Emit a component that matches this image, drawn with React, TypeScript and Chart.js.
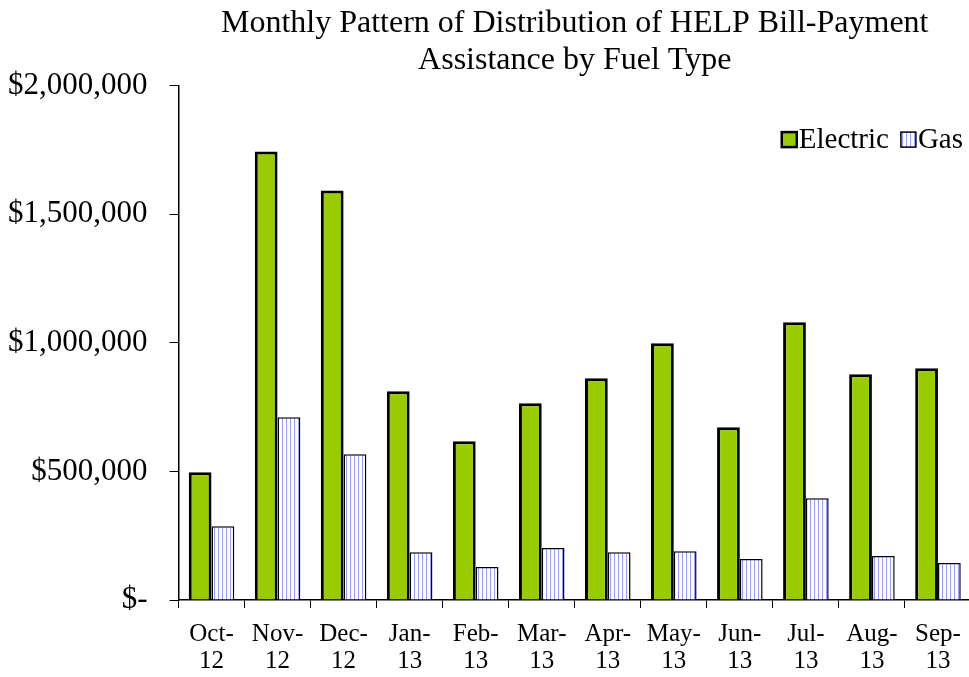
import React, { useEffect, useRef } from "react";
import { Chart, registerables } from "chart.js";

Chart.register(...registerables);

const months = [
  ["Oct-", "12"], ["Nov-", "12"], ["Dec-", "12"], ["Jan-", "13"], ["Feb-", "13"], ["Mar-", "13"],
  ["Apr-", "13"], ["May-", "13"], ["Jun-", "13"], ["Jul-", "13"], ["Aug-", "13"], ["Sep-", "13"],
];
const electric = [497000, 1744000, 1592000, 812000, 617000, 765000, 862000, 998000, 672000, 1080000, 878000, 901000];
const gas = [287000, 711000, 567000, 186000, 128000, 202000, 186000, 190000, 159000, 396000, 171000, 144000];
const titleLines = ["Monthly Pattern of Distribution of HELP Bill-Payment", "Assistance by Fuel Type"];

const FONT = "'Liberation Serif', 'Times New Roman', serif";

function makeStripes(): CanvasPattern | string {
  const c = document.createElement("canvas");
  c.width = 4;
  c.height = 4;
  const ctx = c.getContext("2d");
  if (!ctx) return "#ffffff";
  ctx.fillStyle = "#ffffff";
  ctx.fillRect(0, 0, 4, 4);
  ctx.fillStyle = "#9a9aff";
  ctx.fillRect(2, 0, 1, 4);
  return ctx.createPattern(c, "repeat") || "#ffffff";
}

const legendPlugin = {
  id: "customLegend",
  afterDraw(chart: any) {
    const ctx = chart.ctx as CanvasRenderingContext2D;
    const area = chart.chartArea;
    ctx.save();
    ctx.font = `29px ${FONT}`;
    ctx.textBaseline = "middle";
    ctx.fillStyle = "#000";
    const cy = area.top + 54;
    const box = 15;
    const gap = 2;
    const itemGap = 12;
    const ds = chart.data.datasets;
    const widths = ds.map((d: any) => box + gap + ctx.measureText(d.label).width);
    const total = widths.reduce((a: number, b: number) => a + b, 0) + itemGap * (ds.length - 1);
    let x = 963 - total;
    ds.forEach((d: any, i: number) => {
      ctx.fillStyle = d.backgroundColor;
      ctx.fillRect(x, cy - box / 2, box, box);
      ctx.lineWidth = i === 0 ? 2.5 : 1.5;
      ctx.strokeStyle = "#000";
      ctx.strokeRect(x, cy - box / 2, box, box);
      ctx.fillStyle = "#000";
      ctx.fillText(d.label, x + box + gap, cy + 1);
      x += widths[i] + itemGap;
    });
    ctx.restore();
  },
};

export default function App() {
  const ref = useRef<HTMLCanvasElement>(null);
  useEffect(() => {
    document.body.style.margin = "0";
    document.body.style.overflow = "hidden";
    if (!ref.current) return;
    const stripes = makeStripes();
    const chart = new Chart(ref.current, {
      type: "bar",
      data: {
        labels: months,
        datasets: [
          {
            label: "Electric",
            data: electric,
            backgroundColor: "#99cc00",
            borderColor: "#000000",
            borderWidth: 3,
            categoryPercentage: 0.69,
            barPercentage: 1,
          },
          {
            label: "Gas",
            data: gas,
            backgroundColor: stripes as any,
            borderColor: "#000000",
            borderWidth: 1.5,
            categoryPercentage: 0.69,
            barPercentage: 1,
          },
        ],
      },
      plugins: [legendPlugin],
      options: {
        animation: false,
        responsive: false,
        layout: { padding: { left: -14, right: 0, top: 5, bottom: -11 } },
        plugins: {
          title: {
            display: true,
            text: titleLines,
            color: "#000",
            font: { family: FONT, size: 32, weight: "normal" as any, lineHeight: 1.15 },
            padding: { top: 0, bottom: 7 },
            fullSize: false,
          },
          legend: { display: false },
          tooltip: { enabled: false },
        },
        scales: {
          x: {
            grid: {
              offset: true,
              drawOnChartArea: false,
              drawTicks: true,
              tickLength: 8,
              color: "#000",
            },
            border: { color: "#000", width: 1.5 },
            ticks: {
              color: "#000",
              font: { family: FONT, size: 25, lineHeight: 1.08 },
              maxRotation: 0,
              autoSkip: false,
              padding: 13,
            },
          },
          y: {
            min: 0,
            max: 2000000,
            grid: {
              drawOnChartArea: false,
              drawTicks: true,
              tickLength: 9,
              color: "#000",
            },
            border: { color: "#000", width: 1.5 },
            ticks: {
              stepSize: 500000,
              color: "#000",
              font: { family: FONT, size: 31 },
              padding: 22,
              callback: (v: any) => (Number(v) === 0 ? "$-" : "$" + Number(v).toLocaleString("en-US")),
            },
          },
        },
      },
    });
    return () => chart.destroy();
  }, []);
  return (
    <div style={{ width: 969, height: 677, overflow: "hidden" }}>
      <canvas ref={ref} width={974} height={677} style={{ display: "block" }} />
    </div>
  );
}
